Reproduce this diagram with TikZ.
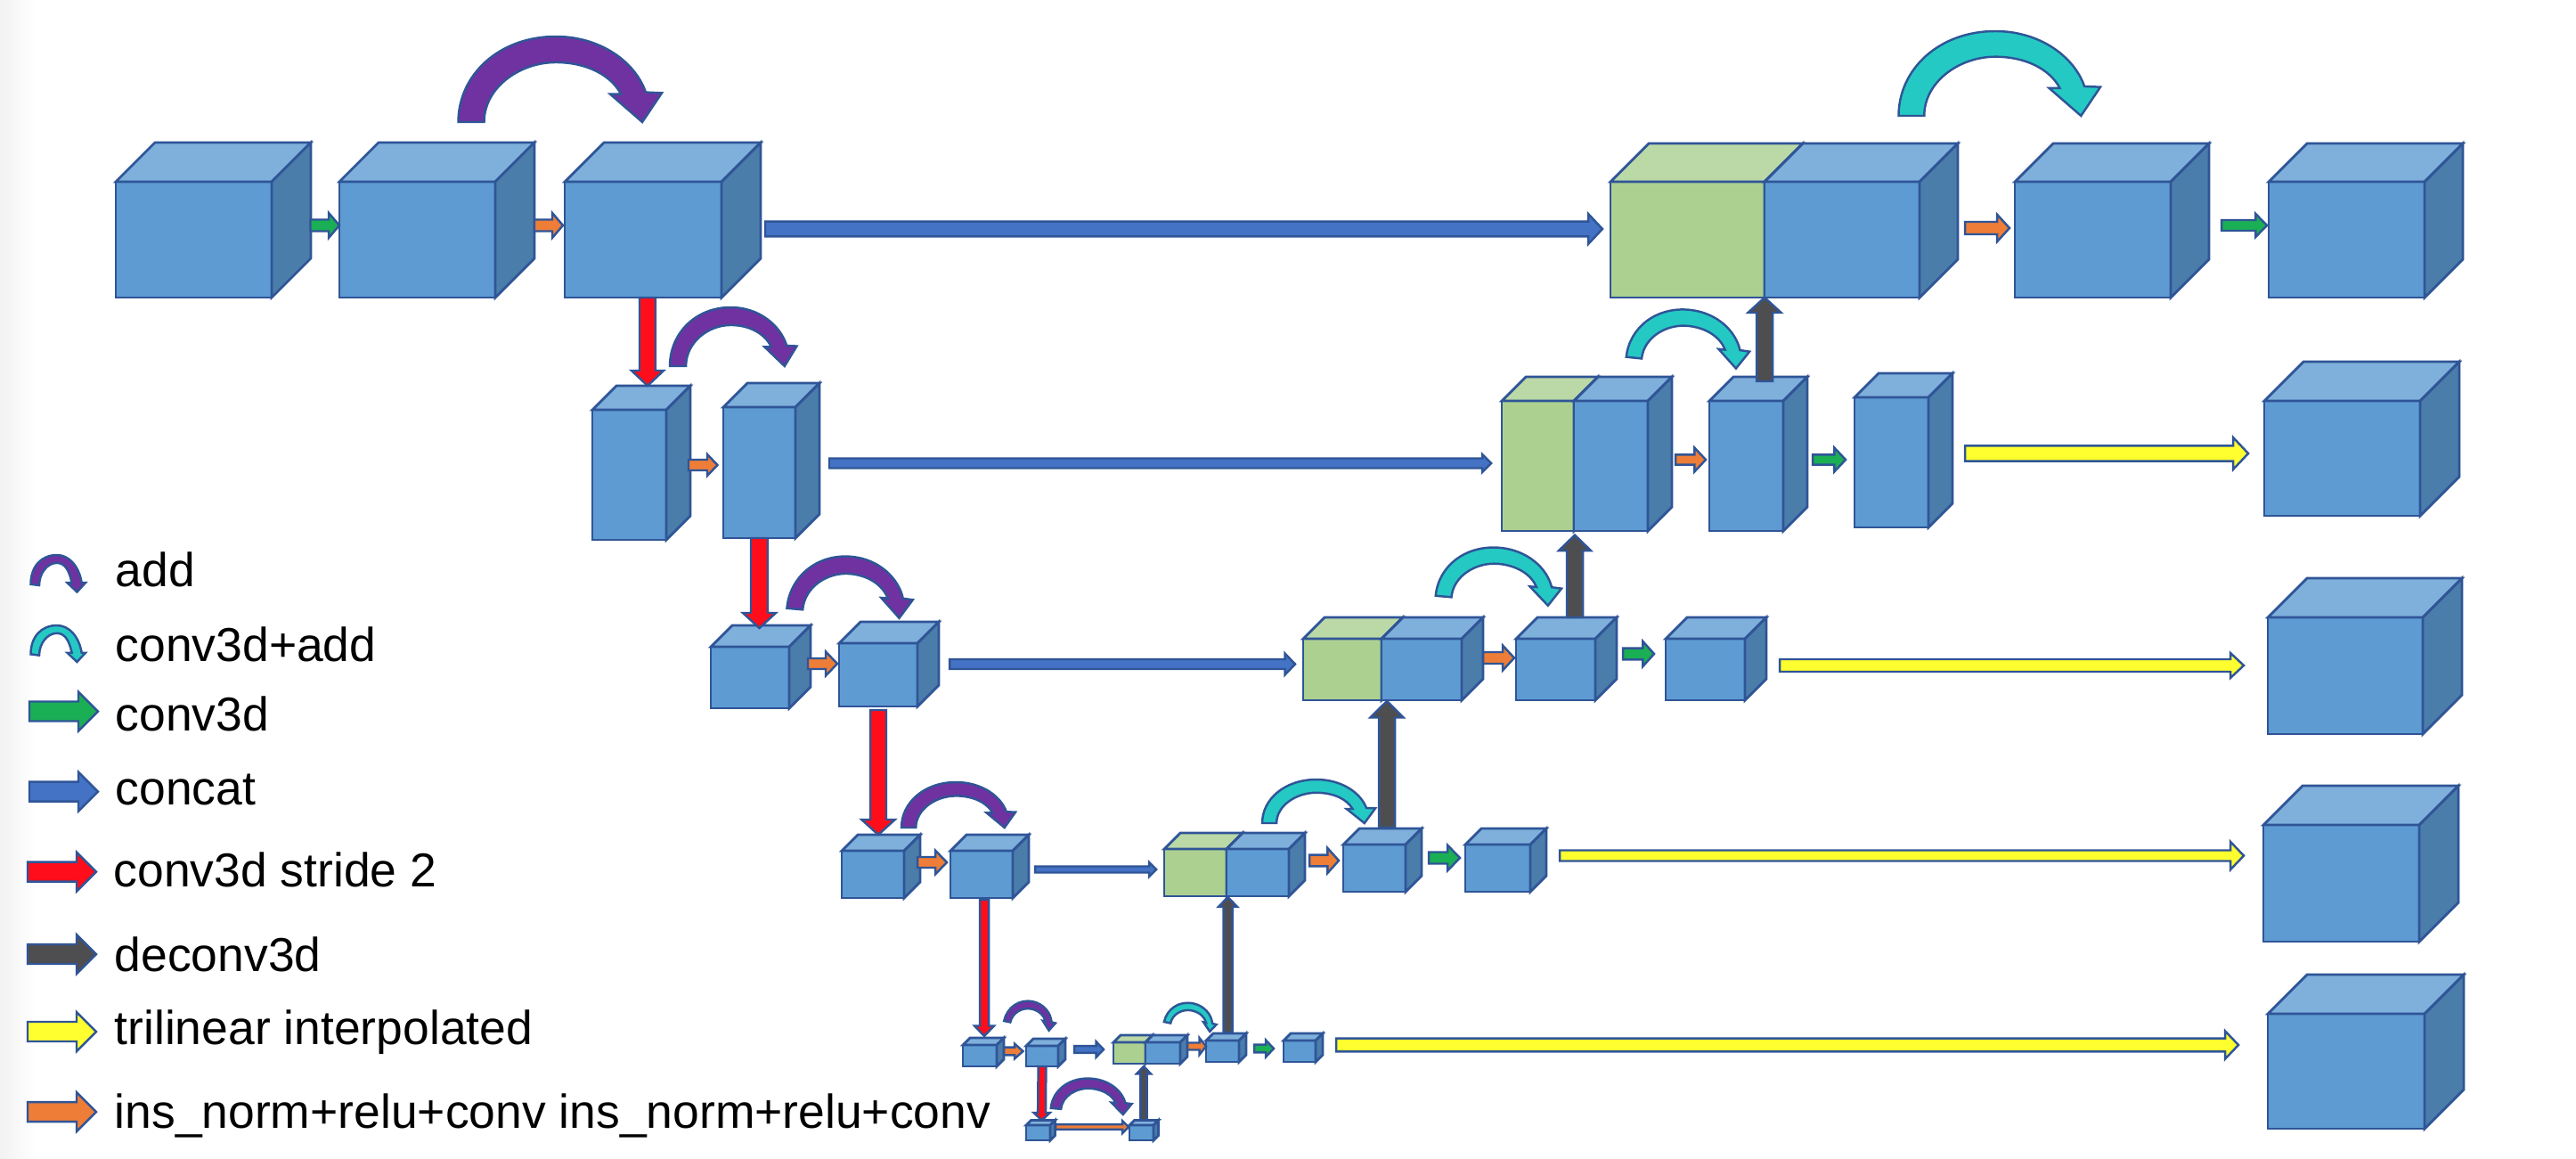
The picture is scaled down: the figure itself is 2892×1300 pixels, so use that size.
\documentclass[tikz,border=0pt]{standalone}
\usepackage{xcolor}
\usepackage{fontspec}
\usepackage{tikz}
\usetikzlibrary{calc}
\setmainfont{Liberation Sans}
\definecolor{edgeblue}{RGB}{47,85,151}
\definecolor{blockfront}{RGB}{94,155,211}
\definecolor{blocktop}{RGB}{127,175,219}
\definecolor{blockside}{RGB}{75,125,170}
\definecolor{concatfront}{RGB}{172,208,144}
\definecolor{concattop}{RGB}{187,216,167}
\definecolor{concatside}{RGB}{75,125,170}
\definecolor{convgreen}{RGB}{26,175,84}
\definecolor{normorange}{RGB}{237,125,55}
\definecolor{concatblue}{RGB}{68,114,196}
\definecolor{strided}{RGB}{255,13,26}
\definecolor{deconvgray}{RGB}{78,78,80}
\definecolor{interpyellow}{RGB}{255,255,47}
\definecolor{addpurple}{RGB}{112,50,160}
\definecolor{addteal}{RGB}{36,201,196}

\tikzset{
  cubeface/.style={draw=edgeblue,line width=0.8pt,line join=miter},
  blockarrow/.style={draw=edgeblue,line width=0.7pt,line join=miter},
  convarrow/.style={blockarrow,fill=convgreen},
  normarrow/.style={blockarrow,fill=normorange},
  concatarrow/.style={blockarrow,fill=concatblue},
  stridearrow/.style={blockarrow,fill=strided},
  deconvarrow/.style={blockarrow,fill=deconvgray},
  interparrow/.style={blockarrow,fill=interpyellow},
  addarrow/.style={blockarrow,fill=addpurple},
  convaddarrow/.style={blockarrow,fill=addteal},
  keylabel/.style={anchor=base west,inner sep=0pt,font=\fontsize{15.2}{18}\selectfont}
}

% #1 colour prefix, #2 name, #3-#6 front face x1,y1,x2,y2, #7 depth
\newcommand{\cube}[7]{
  \node[cubeface,fill=#1front,inner sep=0pt,outer sep=0pt,
    minimum width={(#5-#3)*0.01cm},minimum height={(#6-#4)*0.01cm}]
    (#2) at ({(#3+#5)/2},{(#4+#6)/2}) {};
  \draw[cubeface,fill=#1top] (#2.north west) -- ++(#7,-#7) -- ++({#5-#3},0) -- (#2.north east) -- cycle;
  \draw[cubeface,fill=#1side] (#2.north east) -- ++(#7,-#7) -- ++(0,{#6-#4}) -- (#2.south east) -- cycle;
}
% #1 style, #2 tail, #3 tip, #4 half shaft, #5 half head, #6 head length
\newcommand{\fatarrow}[6][]{
  \coordinate (baA) at #2;
  \coordinate (baB) at #3;
  \coordinate (baH) at ($(baB)!#6*0.01cm!(baA)$);
  \draw[#1] ($(baA)!#4*0.01cm!90:(baB)$) -- ($(baH)!#4*0.01cm!90:(baB)$) -- ($(baH)!#5*0.01cm!90:(baB)$)
    -- (baB) -- ($(baH)!#5*0.01cm!-90:(baB)$) -- ($(baH)!#4*0.01cm!-90:(baB)$) -- ($(baA)!#4*0.01cm!-90:(baB)$) -- cycle;
}
% #1 style, #2 top left corner, #3 width, #4 height, #5 rotation
\newcommand{\skiparrow}[5][]{
  \draw[#1,shift={#2},rotate=#5,xscale=#3,yscale=#4] (0,1) .. controls (0,0.45) and (0.2,0) .. (0.479,0)
    .. controls (0.70,0) and (0.87,0.3) .. (0.921,0.652) -- (1,0.66) -- (0.904,1) -- (0.746,0.673) -- (0.799,0.673)
    .. controls (0.75,0.45) and (0.63,0.302) .. (0.479,0.302) .. controls (0.3,0.302) and (0.127,0.6) .. (0.127,1) -- cycle;
}
% thinner curved arrow of the key: #1 style, #2 top left corner, #3 width, #4 height
\newcommand{\keyskip}[4][]{
  \draw[#1,shift={#2},xscale=#3,yscale=#4] (0,0.79) .. controls (0,0.3) and (0.2,0) .. (0.476,0)
    .. controls (0.7,0) and (0.88,0.3) .. (0.93,0.75) -- (1,0.75) -- (0.845,1) -- (0.667,0.75) -- (0.75,0.75)
    .. controls (0.7,0.4) and (0.62,0.215) .. (0.476,0.215) .. controls (0.3,0.215) and (0.155,0.5) .. (0.155,0.82) -- cycle;
}

\begin{document}
\begin{tikzpicture}[x=0.01cm,y=-0.01cm]
\useasboundingbox (0,0) rectangle (2892,1300);
\shade[left color=black!5,right color=white] (0,0) rectangle (40,1300);

% Encoder cubes
\cube{block}{enc1a}{130}{204}{305}{334}{44}
\cube{block}{enc1b}{381}{204}{556}{334}{44}
\cube{block}{enc1c}{634}{204}{810}{334}{44}
\cube{block}{enc2a}{665}{460}{748}{606}{27}
\cube{block}{enc2b}{812}{457}{893}{604}{27}
\cube{block}{enc3a}{798}{726}{886}{795}{24}
\cube{block}{enc3b}{942}{722}{1030}{793}{24}
\cube{block}{enc4a}{945}{955}{1015}{1008}{18}
\cube{block}{enc4b}{1067}{955}{1137}{1008}{18}
\cube{block}{enc5a}{1081}{1173}{1119}{1197}{8}
\cube{block}{enc5b}{1152}{1174}{1188}{1197}{8}
% Bottom level
\cube{block}{btma}{1152}{1263}{1179}{1280}{5.5}
\cube{block}{btmb}{1268}{1263}{1295}{1280}{5.5}
% Decoder cubes, green half first
\cube{concat}{dec5g}{1250}{1170}{1286}{1194}{8}
\cube{block}{dec5a}{1286}{1170}{1325}{1194}{8}
\cube{block}{dec5b}{1354}{1168}{1391}{1192}{8}
\cube{block}{dec5c}{1441}{1168}{1477}{1192}{8}
\cube{concat}{dec4g}{1307}{953}{1377}{1006}{18}
\cube{block}{dec4a}{1377}{953}{1447}{1006}{18}
\cube{block}{dec4b}{1508}{948}{1578}{1001}{18}
\cube{block}{dec4c}{1645}{948}{1718}{1001}{18}
\cube{concat}{dec3g}{1463}{717}{1551}{786}{24}
\cube{block}{dec3a}{1551}{717}{1641}{786}{24}
\cube{block}{dec3b}{1702}{717}{1791}{786}{24}
\cube{block}{dec3c}{1870}{717}{1959}{786}{24}
\cube{concat}{dec2g}{1686}{450}{1767}{596}{27}
\cube{block}{dec2a}{1767}{450}{1850}{596}{27}
\cube{block}{dec2b}{1919}{450}{2002}{596}{27}
\cube{block}{dec2c}{2082}{446}{2165}{592}{27}
\cube{concat}{dec1g}{1808}{204}{1981}{334}{43}
\cube{block}{dec1a}{1981}{204}{2155}{334}{43}
\cube{block}{dec1b}{2262}{204}{2437}{334}{43}
\cube{block}{dec1c}{2547}{204}{2722}{334}{43}
% Output cubes
\cube{block}{out2}{2542}{450}{2717}{579}{44}
\cube{block}{out3}{2546}{693}{2720}{824}{44}
\cube{block}{out4}{2541}{926}{2716}{1057}{44}
\cube{block}{out5}{2546}{1138}{2722}{1267}{44}

% Level 1 arrows
\fatarrow[convarrow]{($(enc1a.east)+(43.5,-16)$)}{($(enc1b.west)+(0,-16)$)}{6.5}{14}{12}
\fatarrow[normarrow]{($(enc1b.east)+(44,-16)$)}{($(enc1c.west)+(-2,-16)$)}{6.5}{14}{12}
\fatarrow[concatarrow]{($(enc1c.east)+(49,-12)$)}{($(dec1g.west)+(-9,-12)$)}{8.3}{17}{16}
\fatarrow[stridearrow]{($(enc1c.south)+(5,0)$)}{($(enc2a.north)+(20.5,-27)$)}{9}{18}{17}
\fatarrow[deconvarrow]{($(dec2b.north)+(20.5,-22)$)}{(dec1a.south west)}{9}{18.6}{17}
\fatarrow[normarrow]{($(dec1a.east)+(51,-13)$)}{($(dec1b.west)+(-6,-13)$)}{7}{15.3}{14}
\fatarrow[convarrow]{($(dec1b.east)+(57,-16)$)}{($(dec1c.west)+(-2,-16)$)}{6}{13}{12.7}
% Level 2 arrows
\fatarrow[normarrow]{($(enc2a.east)+(25,-11)$)}{($(enc2b.west)+(-6.5,-8.5)$)}{6}{12}{11.5}
\fatarrow[concatarrow]{($(enc2b.east)+(38,-10.5)$)}{($(dec2g.west)+(-12,-3)$)}{5.5}{10}{10}
\fatarrow[stridearrow]{(enc2b.south)}{($(enc3a.north)+(10.5,-21)$)}{9.5}{18.5}{17}
\fatarrow[deconvarrow]{($(dec3b.north)+(21.5,-24)$)}{($(dec2a.south west)+(1,4.6)$)}{9}{18}{17.5}
\fatarrow[normarrow]{($(dec2a.east)+(31,-7)$)}{($(dec2b.west)+(-4,-7)$)}{5.7}{13.5}{12.7}
\fatarrow[convarrow]{($(dec2b.east)+(33,-7)$)}{($(dec2c.west)+(-10,-3)$)}{5.7}{13.5}{12.7}
\fatarrow[interparrow]{($(dec2c.east)+(41,-10)$)}{($(out2.west)+(-18,-5.5)$)}{8.6}{18}{17}
% Level 3 arrows
\fatarrow[normarrow]{($(enc3a.east)+(21,-15.5)$)}{($(enc3b.west)+(-2,-12.5)$)}{6}{13.5}{13}
\fatarrow[concatarrow]{($(enc3b.east)+(36,-12)$)}{($(dec3g.west)+(-9,-6)$)}{5.5}{12}{11.5}
\fatarrow[stridearrow]{($(enc3b.south)+(0,4)$)}{($(enc4a.north)+(6,-18)$)}{9}{18.7}{17}
\fatarrow[deconvarrow]{($(dec4b.north)+(14,-19)$)}{($(dec3a.south west)+(6,1)$)}{9}{18.7}{18.5}
\fatarrow[normarrow]{($(dec3a.east)+(24,-13)$)}{($(dec3b.west)+(-2,-13)$)}{6.5}{14}{13}
\fatarrow[convarrow]{($(dec3b.east)+(31,-17.5)$)}{($(dec3c.west)+(-13,-17.5)$)}{6.3}{14}{12.6}
\fatarrow[interparrow]{($(dec3c.east)+(39,-4.5)$)}{($(out3.west)+(-27,-11.5)$)}{7}{14}{15}
% Level 4 arrows
\fatarrow[normarrow]{($(enc4a.east)+(15,-13.5)$)}{($(enc4b.west)+(-4,-13.5)$)}{6}{13.4}{13}
\fatarrow[concatarrow]{($(enc4b.east)+(25,-5.5)$)}{($(dec4g.west)+(-9,-3.5)$)}{3.5}{8}{8}
\fatarrow[stridearrow]{($(enc4b.south)+(3,2)$)}{($(enc5a.north)+(5,-10)$)}{5}{11}{11.5}
\fatarrow[deconvarrow]{($(dec5b.north)+(6,-9)$)}{($(dec4a.south west)+(1.5,1)$)}{5}{10.6}{11}
\fatarrow[normarrow]{($(dec4a.east)+(23,-13.5)$)}{($(dec4b.west)+(-5,-8.5)$)}{6.3}{14}{12.6}
\fatarrow[convarrow]{($(dec4b.east)+(26,-11.5)$)}{($(dec4c.west)+(-6,-11.5)$)}{6.5}{14.4}{14}
\fatarrow[interparrow]{($(dec4c.east)+(33,-14)$)}{($(out4.west)+(-22,-31)$)}{6}{15.7}{15}
% Level 5 arrows
\fatarrow[normarrow]{($(enc5a.east)+(8,-5)$)}{($(enc5b.west)+(-3.5,-5.5)$)}{4.4}{8.4}{9.5}
\fatarrow[concatarrow]{($(enc5b.east)+(18,-7.5)$)}{($(dec5g.west)+(-11,-4)$)}{3.9}{8.7}{8.4}
\fatarrow[stridearrow]{(enc5b.south)}{($(btma.north)+(4,-5.5)$)}{4.4}{9}{8.4}
\fatarrow[normarrow]{($(btma.east)+(6,-6.5)$)}{($(btmb.west)+(-1,-6.5)$)}{2.8}{7}{7}
\fatarrow[deconvarrow]{($(btmb.north)+(2.5,-5.5)$)}{($(dec5a.south west)+(-2,3)$)}{3.6}{8}{8.4}
\fatarrow[normarrow]{($(dec5a.east)+(8,-7.5)$)}{($(dec5b.west)+(0,-5.5)$)}{4}{9.5}{7.5}
\fatarrow[convarrow]{($(dec5b.east)+(17,-3)$)}{($(dec5c.west)+(-11,-3)$)}{4.4}{9.5}{9}
\fatarrow[interparrow]{($(dec5c.east)+(23,-7)$)}{($(out5.west)+(-33,-29.5)$)}{7.3}{15.7}{15}

% Curved arrows
\skiparrow[addarrow]{($(enc1b.north)+(46,-163)$)}{228.5}{96}{0}
\skiparrow[addarrow]{($(enc2b.north)+(-100.5,-112)$)}{142.5}{66}{0}
\skiparrow[addarrow]{($(enc3b.north)+(-97,-103)$)}{140}{64}{-5}
\skiparrow[addarrow]{($(enc4b.north)+(-90,-77)$)}{128}{51}{0}
\skiparrow[addarrow]{($(enc5b.north)+(-37,-55.4)$)}{57}{28}{-12}
\skiparrow[addarrow]{($(btma.north)+(17.5,-56)$)}{90}{37}{-5}
\skiparrow[convaddarrow]{($(dec1b.north)+(-218,-169)$)}{226.5}{95}{0}
\skiparrow[convaddarrow]{($(dec2b.north)+(-128.5,-109)$)}{137}{60}{-6}
\skiparrow[convaddarrow]{($(dec3b.north)+(-129.5,-108)$)}{140}{60}{-5}
\skiparrow[convaddarrow]{($(dec4b.north)+(-126,-73)$)}{127}{49}{0}
\skiparrow[convaddarrow]{($(dec5b.north)+(-60,-47.4)$)}{58}{27}{-12}

% Key on the left
\node[keylabel] (keyadd) at (129,658) {add};
\node[keylabel] (keyconvadd) at (129,742) {conv3d+add};
\node[keylabel] (keyconv) at (129,820) {conv3d};
\node[keylabel] (keyconcat) at (129,903) {concat};
\node[keylabel] (keystride) at (127,995) {conv3d stride 2};
\node[keylabel] (keydeconv) at (128,1090) {deconv3d};
\node[keylabel] (keyinterp) at (128,1172) {trilinear interpolated};
\node[keylabel] (keynorm) at (128,1266) {ins\_norm+relu+conv ins\_norm+relu+conv};
\keyskip[addarrow]{($(keyadd.base west)+(-94.5,-35)$)}{61.5}{41.5}
\keyskip[convaddarrow]{($(keyconvadd.base west)+(-94.5,-40)$)}{61.5}{41}
\fatarrow[convarrow]{($(keyconv.base west)+(-96,-21.5)$)}{($(keyconv.base west)+(-19,-21.5)$)}{11}{22}{22}
\fatarrow[concatarrow]{($(keyconcat.base west)+(-96,-14.4)$)}{($(keyconcat.base west)+(-19,-14.4)$)}{11}{22}{22}
\fatarrow[stridearrow]{($(keystride.base west)+(-96,-16.4)$)}{($(keystride.base west)+(-19,-16.4)$)}{11}{22}{22}
\fatarrow[deconvarrow]{($(keydeconv.base west)+(-97,-19)$)}{($(keydeconv.base west)+(-20,-19)$)}{11}{22}{22}
\fatarrow[interparrow]{($(keyinterp.base west)+(-97,-14)$)}{($(keyinterp.base west)+(-20,-14)$)}{11}{22}{22}
\fatarrow[normarrow]{($(keynorm.base west)+(-97,-18)$)}{($(keynorm.base west)+(-20,-18)$)}{11}{22}{22}
\end{tikzpicture}
\end{document}
